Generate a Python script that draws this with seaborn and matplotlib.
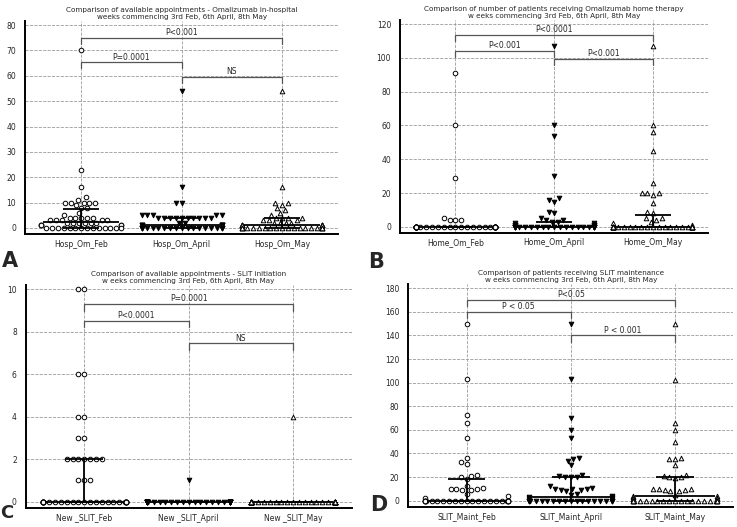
import numpy as np
import pandas as pd
import matplotlib
matplotlib.use('Agg')
import matplotlib.pyplot as plt
import seaborn as sns
from matplotlib.ticker import MultipleLocator

# Panel A - Omalizumab in-hospital appointments
hosp_cats = ['Hosp_Om_Feb', 'Hosp_Om_April', 'Hosp_Om_May']
hosp_feb = [70, 23, 16, 12, 11, 10, 10, 10, 10, 10, 9, 8, 8, 6, 5, 4, 4, 4, 4, 4,
            3, 3, 3, 3, 3, 2, 2, 2, 2, 2, 2, 1, 1, 1, 1, 1,
            0, 0, 0, 0, 0, 0, 0, 0, 0, 0, 0, 0, 0, 0]
hosp_apr = [54, 16, 10, 10, 5, 5, 5, 5, 5, 4, 4, 4, 4, 4, 4, 4, 4, 4, 4, 2, 2,
            1, 1, 1, 1, 1, 1, 1, 1,
            0, 0, 0, 0, 0, 0, 0, 0, 0, 0, 0, 0, 0, 0, 0, 0, 0, 0, 0, 0, 0, 0]
hosp_may = [54, 16, 10, 10, 9, 8, 7, 6, 5, 4, 4, 4, 4, 3, 3, 3, 2, 2, 2, 2,
            1, 1, 1, 1, 1, 1, 1, 1, 1, 1,
            0, 0, 0, 0, 0, 0, 0, 0, 0, 0, 0, 0, 0, 0, 0, 0, 0, 0, 0]

# Panel B - Omalizumab home therapy
home_cats = ['Home_Om_Feb', 'Home_Om_April', 'Home_Om_May']
home_feb = [91, 60, 29, 5, 4, 4, 4,
            0, 0, 0, 0, 0, 0, 0, 0, 0, 0, 0, 0, 0, 0, 0, 0, 0, 0, 0, 0, 0, 0,
            0, 0, 0, 0, 0, 0, 0, 0, 0, 0, 0, 0, 0, 0, 0, 0]
home_apr = [107, 60, 54, 30, 17, 16, 15, 9, 8, 5, 4, 4, 3, 3, 2, 2, 1, 1, 1, 1, 1, 1,
            0, 0, 0, 0, 0, 0, 0, 0, 0, 0, 0, 0, 0, 0, 0, 0, 0, 0, 0, 0, 0, 0,
            0, 0, 0, 0, 0, 0]
home_may = [107, 60, 56, 45, 26, 20, 20, 20, 19, 14, 9, 8, 5, 5, 4, 3, 2, 1,
            0, 0, 0, 0, 0, 0, 0, 0, 0, 0, 0, 0, 0, 0, 0, 0, 0, 0, 0, 0, 0, 0,
            0, 0, 0, 0, 0, 0]

# Panel C - SLIT initiation appointments
slit_cats = ['New _SLIT_Feb', 'New _SLIT_April', 'New _SLIT_May']
slit_feb = [10, 10, 6, 6, 4, 4, 3, 3, 2, 2, 2, 2, 2, 2, 2, 1, 1, 1,
            0, 0, 0, 0, 0, 0, 0, 0, 0, 0, 0, 0, 0, 0, 0, 0, 0, 0, 0, 0, 0, 0,
            0, 0, 0, 0, 0, 0, 0, 0]
slit_apr = [1, 0, 0, 0, 0, 0, 0, 0, 0, 0, 0, 0, 0, 0, 0, 0, 0, 0, 0, 0, 0,
            0, 0, 0, 0, 0, 0, 0, 0, 0, 0, 0, 0, 0, 0, 0, 0, 0, 0, 0, 0]
slit_may = [4, 0, 0, 0, 0, 0, 0, 0, 0, 0, 0, 0, 0, 0, 0, 0, 0, 0, 0, 0, 0,
            0, 0, 0, 0, 0, 0, 0, 0, 0, 0, 0, 0, 0, 0, 0, 0, 0, 0, 0, 0]

# Panel D - SLIT maintenance
maint_cats = ['SLIT_Maint_Feb', 'SLIT_Maint_April', 'SLIT_Maint_May']
maint_feb = [150, 103, 73, 66, 53, 36, 33, 31, 22, 21, 20, 18, 12, 11, 10, 10, 10,
             9, 9, 6, 4, 2,
             0, 0, 0, 0, 0, 0, 0, 0, 0, 0, 0, 0, 0, 0, 0, 0, 0, 0, 0, 0, 0, 0, 0]
maint_apr = [150, 103, 70, 60, 53, 36, 35, 34, 30, 22, 21, 20, 20, 20, 12, 11, 10, 10,
             10, 9, 9, 8, 6, 5, 4, 3, 3, 2, 2, 1, 1,
             0, 0, 0, 0, 0, 0, 0, 0, 0, 0, 0, 0, 0, 0, 0, 0, 0, 0, 0, 0, 0, 0]
maint_may = [150, 102, 66, 60, 50, 36, 35, 35, 30, 22, 21, 20, 20, 19, 10, 10, 10,
             9, 9, 8, 8, 5, 4, 4, 3, 2, 1, 1, 1,
             0, 0, 0, 0, 0, 0, 0, 0, 0, 0, 0, 0, 0, 0, 0, 0, 0, 0, 0]

markers = ['o', 'v', '^']
faces = ['white', 'black', 'white']


def draw_panel(ax, cats, series, title, top, major, minor, brackets):
    df = pd.concat([pd.DataFrame({'group': c, 'value': v}) for c, v in zip(cats, series)])
    for cat, mk, fc in zip(cats, markers, faces):
        sub = df[df['group'] == cat]
        sns.swarmplot(data=sub, x='group', y='value', order=cats, marker=mk, color=fc,
                      edgecolor='black', linewidth=0.7, size=3.3, ax=ax,
                      zorder=3, warn_thresh=1)

    # median and interquartile range
    for i, vals in enumerate(series):
        q1, med, q3 = np.percentile(vals, [25, 50, 75])
        ax.hlines(med, i - 0.38, i + 0.38, color='black', lw=1.3, zorder=4)
        ax.hlines([q1, q3], i - 0.18, i + 0.18, color='black', lw=1.3, zorder=4)
        ax.vlines(i, q1, q3, color='black', lw=1.3, zorder=4)

    # significance brackets
    d = top * 0.03
    for i, j, y, txt in brackets:
        ax.plot([i, i, j, j], [y - d, y, y, y - d], color='#555555', lw=0.9, zorder=2)
        ax.text((i + j) / 2, y + top * 0.004, txt, ha='center', va='bottom', fontsize=5.5)

    ax.set_xlim(-0.56, 2.56)
    ax.set_ylim(-top * 0.03, top * 1.02)
    ax.yaxis.set_major_locator(MultipleLocator(major))
    ax.yaxis.set_minor_locator(MultipleLocator(minor))
    ax.grid(True, which='major', ls='--', color='#9a9a9a', lw=0.6, zorder=0)
    ax.set_axisbelow(True)
    for s in ['top', 'right']:
        ax.spines[s].set_visible(False)
    for s in ['left', 'bottom']:
        ax.spines[s].set_linewidth(1.4)
        ax.spines[s].set_color('black')
    ax.tick_params(axis='y', which='major', labelsize=5.5, length=3, width=0.8)
    ax.tick_params(axis='y', which='minor', length=2, width=0.6)
    ax.tick_params(axis='x', labelsize=5.5, length=0, pad=4)
    ax.set_xlabel('')
    ax.set_ylabel('')
    ax.set_title(title, fontsize=5.2, pad=1.5, linespacing=1.25)


sns.set_style('white')
plt.rcParams['font.family'] = ['DejaVu Sans']

fig = plt.figure(figsize=(7.37, 5.27), dpi=100)
ax_a = fig.add_axes([0.034, 0.556, 0.425, 0.404])
ax_b = fig.add_axes([0.543, 0.558, 0.418, 0.404])
ax_c = fig.add_axes([0.035, 0.036, 0.442, 0.423])
ax_d = fig.add_axes([0.554, 0.038, 0.441, 0.423])

draw_panel(ax_a, hosp_cats, [hosp_feb, hosp_apr, hosp_may],
           'Comparison of available appointments - Omalizumab in-hospital\nweeks commencing 3rd Feb, 6th April, 8th May',
           80, 10, 5, [(0, 2, 75, 'P<0.001'), (0, 1, 65.3, 'P=0.0001'), (1, 2, 59.6, 'NS')])
draw_panel(ax_b, home_cats, [home_feb, home_apr, home_may],
           'Comparison of number of patients receiving Omalizumab home therapy\nw eeks commencing 3rd Feb, 6th April, 8th May',
           120, 20, 10, [(0, 2, 113.5, 'P<0.0001'), (0, 1, 104, 'P<0.001'), (1, 2, 99.6, 'P<0.001')])
draw_panel(ax_c, slit_cats, [slit_feb, slit_apr, slit_may],
           'Comparison of available appointments - SLIT initiation\nw eeks commencing 3rd Feb, 6th April, 8th May',
           10, 2, 1, [(0, 2, 9.3, 'P=0.0001'), (0, 1, 8.52, 'P<0.0001'), (1, 2, 7.45, 'NS')])
draw_panel(ax_d, maint_cats, [maint_feb, maint_apr, maint_may],
           'Comparison of patients receiving SLIT maintenance\nw eeks commencing 3rd Feb, 6th April, 8th May',
           180, 20, 10, [(0, 2, 170, 'P<0.05'), (0, 1, 160, 'P < 0.05'), (1, 2, 140, 'P < 0.001')])

# panel letters
fig.text(0.002, 0.505, 'A', fontsize=15, fontweight='bold', ha='left', va='center')
fig.text(0.500, 0.503, 'B', fontsize=15, fontweight='bold', ha='left', va='center')
fig.text(0.000, 0.026, 'C', fontsize=13, fontweight='bold', ha='left', va='center')
fig.text(0.502, 0.042, 'D', fontsize=15, fontweight='bold', ha='left', va='center')

fig.savefig('out.png', dpi=100)
